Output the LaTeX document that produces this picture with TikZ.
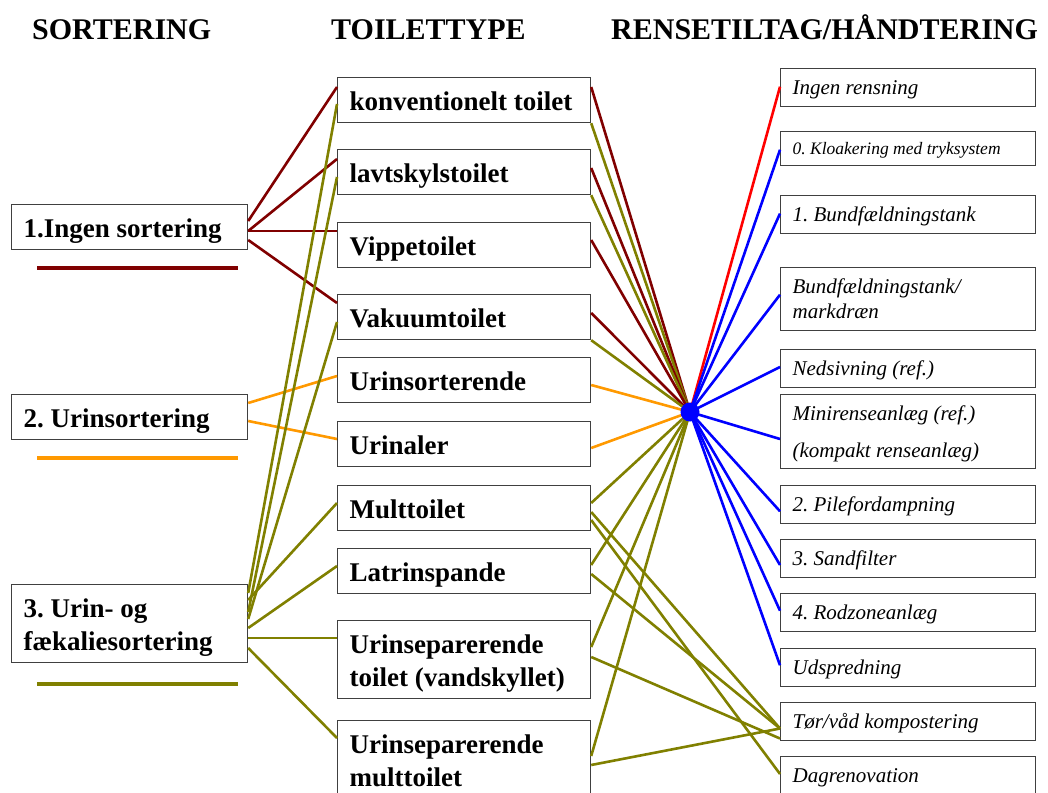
\documentclass[tikz,border=0pt]{standalone}
\usepackage{fontspec}
\setmainfont{Liberation Serif}
\usepackage{tikz}
\usetikzlibrary{positioning, calc}

\definecolor{sortred}{RGB}{128,0,0}
\definecolor{sortorange}{RGB}{255,153,0}
\definecolor{sortolive}{RGB}{128,128,0}

\frenchspacing
\newcommand{\bstrut}{\rule[-6pt]{0pt}{33pt}}
\newcommand{\istrut}{\rule[-5pt]{0pt}{25pt}}
\newcommand{\sstrut}{\rule[-4pt]{0pt}{21pt}}

\tikzset{
  head/.style={anchor=base west, inner sep=0pt, font=\bfseries\fontsize{30}{36}\selectfont},
  sortbox/.style={draw=black!75, line width=1.2pt, fill=white, anchor=north west, align=flush left,
    inner xsep=12pt, inner ysep=6pt, text width=212pt, font=\bfseries\fontsize{27}{33}\selectfont},
  toilbox/.style={sortbox, text width=229pt},
  rensbox/.style={draw=black!75, line width=1.2pt, fill=white, anchor=north west, align=flush left,
    inner xsep=12pt, inner ysep=6.3pt, text width=231pt, font=\itshape\fontsize{21}{25}\selectfont},
  linkdr/.style={line width=2.6pt, draw=sortred},
  linkor/.style={line width=2.6pt, draw=sortorange},
  linkol/.style={line width=2.6pt, draw=sortolive},
  linkbl/.style={line width=2.6pt, draw=blue},
  linkrd/.style={line width=2.6pt, draw=red},
  legend/.style={line width=4pt}
}

\begin{document}
\begin{tikzpicture}[x=1pt, y=-1pt]
\useasboundingbox (0,0) rectangle (1048,792);

% overskrifter
\node[head] (hsort) at (32,40) {SORTERING};
\node[head] (htoil) at (331,40) {TOILETTYPE};
\node[head] (hrens) at (611,40) {RENSETILTAG/HÅNDTERING};

% sortering
\node[sortbox] (ingen) at (11,204) {\bstrut 1.Ingen sortering};
\node[sortbox] (urin) at (11,394) {\bstrut 2. Urinsortering};
\node[sortbox] (fkal) at (11,584) {\bstrut 3. Urin- og\\\bstrut fækaliesortering};

\draw[legend, sortred] ([shift={(26,18)}]ingen.south west) -- ([shift={(-10,18)}]ingen.south east);
\draw[legend, sortorange] ([shift={(26,18)}]urin.south west) -- ([shift={(-10,18)}]urin.south east);
\draw[legend, sortolive] ([shift={(26,21)}]fkal.south west) -- ([shift={(-10,21)}]fkal.south east);

% toilettype
\node[toilbox] (konv) at (337,77) {\bstrut konventionelt toilet};
\node[toilbox] (lavt) at (337,149) {\bstrut lavtskylstoilet};
\node[toilbox] (vippe) at (337,222) {\bstrut Vippetoilet};
\node[toilbox] (vakuum) at (337,294) {\bstrut Vakuumtoilet};
\node[toilbox] (usort) at (337,357) {\bstrut Urinsorterende};
\node[toilbox] (urinal) at (337,421) {\bstrut Urinaler};
\node[toilbox] (mult) at (337,485) {\bstrut Multtoilet};
\node[toilbox] (latr) at (337,548) {\bstrut Latrinspande};
\node[toilbox] (usepv) at (337,620) {\bstrut Urinseparerende\\\bstrut toilet (vandskyllet)};
\node[toilbox] (usepm) at (337,720) {\bstrut Urinseparerende\\\bstrut multtoilet};

% rensetiltag
\node[rensbox] (ingenr) at (780,68) {\istrut Ingen rensning};
\node[rensbox, font=\itshape\fontsize{17.5}{21}\selectfont] (kloak) at (780,131) {\sstrut 0. Kloakering med tryksystem};
\node[rensbox] (bundf) at (780,195) {\istrut 1. Bundfældningstank};
\node[rensbox] (markdr) at (780,267) {\istrut Bundfældningstank/\\\istrut markdræn};
\node[rensbox] (nedsiv) at (780,349) {\istrut Nedsivning (ref.)};
\node[rensbox] (minir) at (780,394) {\istrut Minirenseanlæg (ref.)\\[11.6pt]\istrut (kompakt renseanlæg)};
\node[rensbox] (pile) at (780,485) {\istrut 2. Pilefordampning};
\node[rensbox] (sand) at (780,539) {\istrut 3. Sandfilter};
\node[rensbox] (rodz) at (780,593) {\istrut 4. Rodzoneanlæg};
\node[rensbox] (udspr) at (780,648) {\istrut Udspredning};
\node[rensbox] (kompost) at (780,702) {\istrut Tør/våd kompostering};
\node[rensbox] (dagren) at (780,756) {\istrut Dagrenovation};

\coordinate (hc) at (690,412);

% sortering -> toilettype
\draw[linkdr] ([yshift=-17pt]ingen.north east) -- ([yshift=-10pt]konv.north west);
\draw[linkdr] ([yshift=-27pt]ingen.north east) -- ([yshift=-10pt]lavt.north west);
\draw[linkdr] ([yshift=-27pt]ingen.north east) -- ([yshift=-9pt]vippe.north west);
\draw[linkdr] ([yshift=-36pt]ingen.north east) -- ([yshift=-9pt]vakuum.north west);
\draw[linkor] ([yshift=-9pt]urin.north east) -- ([yshift=-19pt]usort.north west);
\draw[linkor] ([yshift=-27pt]urin.north east) -- ([yshift=-18pt]urinal.north west);
\draw[linkol] ([yshift=-9pt]fkal.north east) -- ([yshift=-27pt]konv.north west);
\draw[linkol] ([yshift=-28pt]fkal.north east) -- ([yshift=-28pt]lavt.north west);
\draw[linkol] ([yshift=-35pt]fkal.north east) -- ([yshift=-28pt]vakuum.north west);
\draw[linkol] ([yshift=-16pt]fkal.north east) -- ([yshift=-18pt]mult.north west);
\draw[linkol] ([yshift=-44pt]fkal.north east) -- ([yshift=-18pt]latr.north west);
\draw[linkol] ([yshift=-54pt]fkal.north east) -- ([yshift=-18pt]usepv.north west);
\draw[linkol] ([yshift=-64pt]fkal.north east) -- ([yshift=-18pt]usepm.north west);

% toilettype -> samlepunkt
\draw[linkdr] ([yshift=-10pt]konv.north east) -- (hc);
\draw[linkol] (konv.south east) -- (hc);
\draw[linkdr] ([yshift=-19pt]lavt.north east) -- (hc);
\draw[linkol] (lavt.south east) -- (hc);
\draw[linkdr] ([yshift=-18pt]vippe.north east) -- (hc);
\draw[linkdr] ([yshift=-19pt]vakuum.north east) -- (hc);
\draw[linkol] (vakuum.south east) -- (hc);
\draw[linkor] ([yshift=-28pt]usort.north east) -- (hc);
\draw[linkor] ([yshift=-27pt]urinal.north east) -- (hc);
\draw[linkol] ([yshift=-18pt]mult.north east) -- (hc);
\draw[linkol] ([yshift=-17pt]latr.north east) -- (hc);
\draw[linkol] ([yshift=-27pt]usepv.north east) -- (hc);
\draw[linkol] ([yshift=-36pt]usepm.north east) -- (hc);

% toilettype -> kompostering / dagrenovation
\draw[linkol] ([yshift=-27pt]mult.north east) -- ([yshift=-26.5pt]kompost.north west);
\draw[linkol] ([yshift=-35pt]mult.north east) -- ([yshift=-18pt]dagren.north west);
\draw[linkol] ([yshift=-26pt]latr.north east) -- ([yshift=-26.5pt]kompost.north west);
\draw[linkol] ([yshift=-37pt]usepv.north east) -- ([yshift=-36.5pt]kompost.north west);
\draw[linkol] ([yshift=-45pt]usepm.north east) -- ([yshift=-26.5pt]kompost.north west);

% samlepunkt -> rensetiltag
\draw[linkrd] (hc) -- ([yshift=-18.7pt]ingenr.north west);
\draw[linkbl] (hc) -- ([yshift=-18.7pt]kloak.north west);
\draw[linkbl] (hc) -- ([yshift=-18.6pt]bundf.north west);
\draw[linkbl] (hc) -- ([yshift=-27.7pt]markdr.north west);
\draw[linkbl] (hc) -- ([yshift=-18pt]nedsiv.north west);
\draw[linkbl] (hc) -- ([yshift=-45pt]minir.north west);
\draw[linkbl] (hc) -- ([yshift=-26.3pt]pile.north west);
\draw[linkbl] (hc) -- ([yshift=-26pt]sand.north west);
\draw[linkbl] (hc) -- ([yshift=-17.7pt]rodz.north west);
\draw[linkbl] (hc) -- ([yshift=-17.3pt]udspr.north west);

\node[circle, fill=blue, minimum size=19pt, inner sep=0pt] (hub) at (hc) {};

\end{tikzpicture}
\end{document}
